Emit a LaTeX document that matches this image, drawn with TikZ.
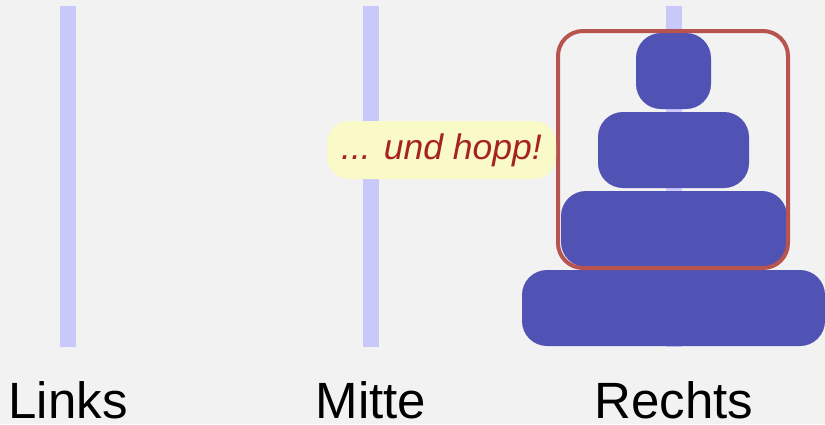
\documentclass[tikz,border=0pt]{standalone}
\usepackage{fontspec}
\setmainfont{Liberation Sans}
\definecolor{bgc}{RGB}{242,242,242}
\definecolor{pegc}{RGB}{200,200,250}
\definecolor{diskc}{RGB}{80,82,180}
\definecolor{boxc}{RGB}{184,84,80}
\definecolor{notec}{RGB}{250,250,200}
\definecolor{notetext}{RGB}{165,35,35}
\begin{document}
\begin{tikzpicture}[x=1pt,y=-1pt,
  pegbar/.style={fill=pegc,draw=none,inner sep=0pt,minimum width=16pt,minimum height=341pt},
  disk/.style={fill=diskc,draw=none,rounded corners=25pt,inner sep=0pt,minimum height=76pt},
  label/.style={inner sep=0pt,anchor=base,font=\fontsize{51}{51}\selectfont},
  note/.style={fill=notec,draw=none,rounded corners=22pt,inner sep=0pt,minimum width=229pt,minimum height=58pt,
    text=notetext,font=\fontsize{35.5}{35.5}\selectfont\itshape},
  groupbox/.style={draw=boxc,line width=4pt,rounded corners=25pt,fill=none,inner sep=0pt}]
\fill[bgc] (0,0) rectangle (825,424);
\useasboundingbox (0,0) rectangle (825,424);
\node[pegbar] (pegL) at (68,176.5) {};
\node[pegbar] (pegM) at (371,176.5) {};
\node[pegbar] (pegR) at (674,176.5) {};
\node[disk,minimum width=303pt] (d4) at (673.5,308) {};
\node[disk,minimum width=226pt] (d3) at (674,229) {};
\node[disk,minimum width=151pt] (d2) at (673.5,150) {};
\node[disk,minimum width=75pt] (d1) at (673.5,71) {};
\node[groupbox,minimum width=230pt,minimum height=237pt] (grp) at (673,149.5) {};
\node[note] (hopp) at (441.5,150) {... und hopp!};
\node[label] (lL) at (68,418) {Links};
\node[label] (lM) at (371,418) {Mitte};
\node[label] (lR) at (674,418) {Rechts};
\end{tikzpicture}
\end{document}
